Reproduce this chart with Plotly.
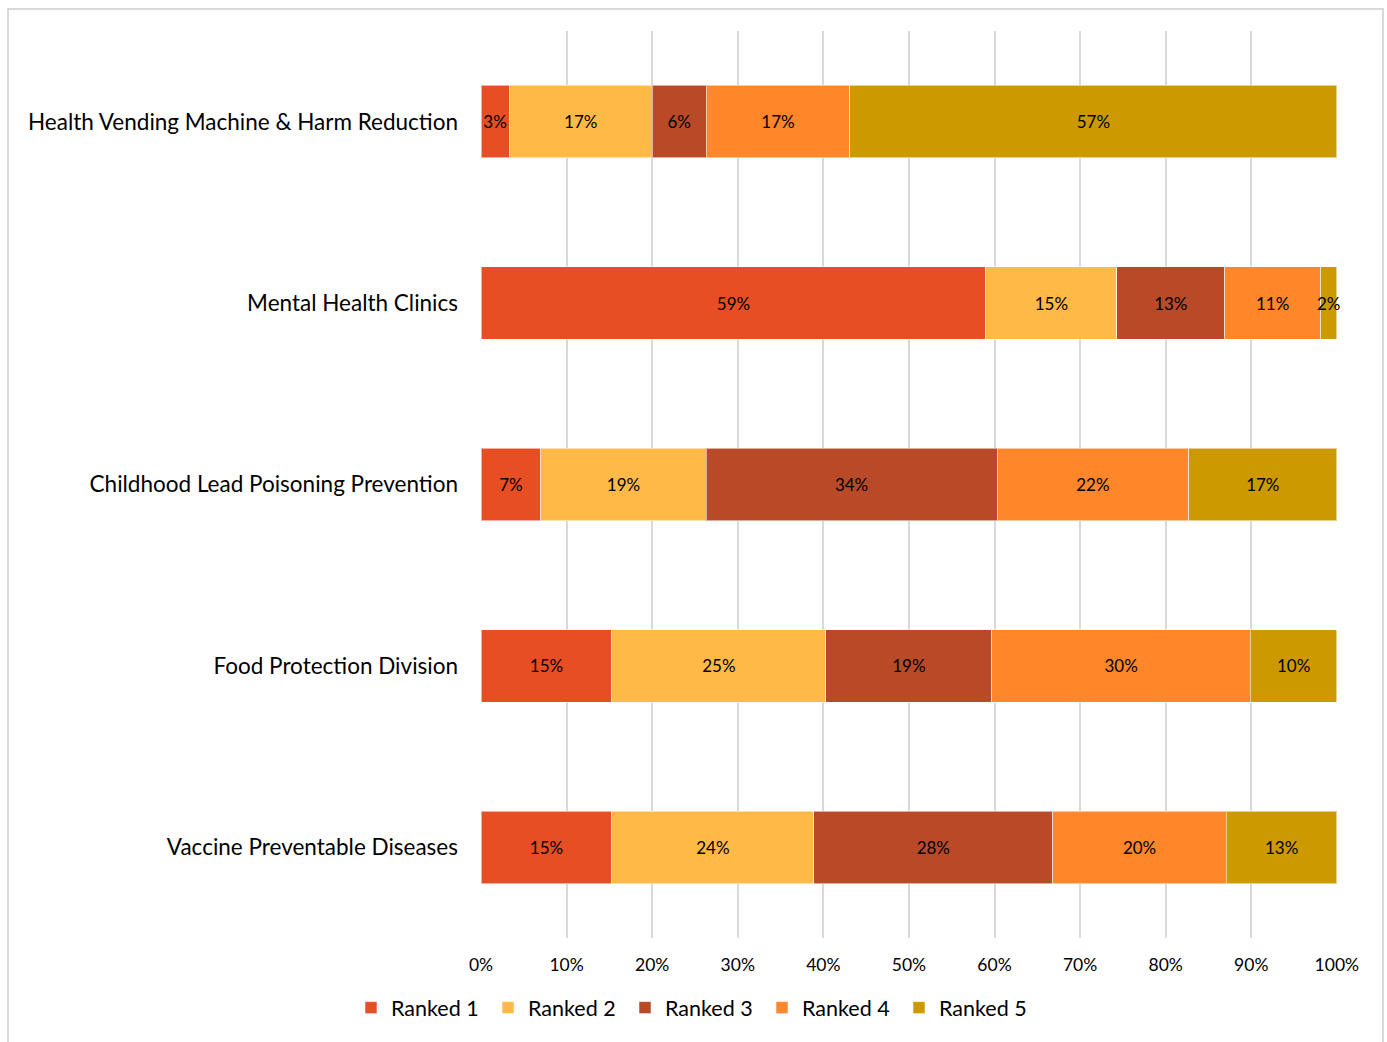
import plotly.graph_objects as go

# Programs, listed top to bottom as they appear on the chart
programs = [
    "Health Vending Machine & Harm Reduction",
    "Mental Health Clinics",
    "Childhood Lead Poisoning Prevention",
    "Food Protection Division",
    "Vaccine Preventable Diseases",
]

# Share of respondents (%) giving each rank to each program
ranked_1 = [3.3, 59.0, 7.0, 15.3, 15.3]
ranked_2 = [16.7, 15.3, 19.3, 25.0, 23.6]
ranked_3 = [6.3, 12.6, 34.0, 19.4, 27.9]
ranked_4 = [16.8, 11.2, 22.4, 30.2, 20.3]
ranked_5 = [56.9, 1.9, 17.3, 10.1, 12.9]

series_names = ["Ranked 1", "Ranked 2", "Ranked 3", "Ranked 4", "Ranked 5"]
series_values = [ranked_1, ranked_2, ranked_3, ranked_4, ranked_5]
series_colors = ["#E84E24", "#FFB946", "#B84A28", "#FF8629", "#CC9900"]

tick_values = list(range(0, 101, 10))
tick_labels = [f"{v}%" for v in tick_values]

FONT = "Lato, Carlito, Calibri, sans-serif"

fig = go.Figure()
for name, vals, color in zip(series_names, series_values, series_colors):
    fig.add_trace(
        go.Bar(
            y=programs,
            x=vals,
            name=name,
            orientation="h",
            marker=dict(color=color, line=dict(color="rgba(255,255,255,0.55)", width=1)),
            texttemplate="%{x:.0f}%",
            textposition="inside",
            insidetextanchor="middle",
            textangle=0,
            constraintext="none",
            textfont=dict(family=FONT, size=17, color="#000000"),
            cliponaxis=False,
            hovertemplate="%{y}<br>" + name + ": %{x:.1f}%<extra></extra>",
        )
    )

fig.update_layout(
    barmode="stack",
    bargap=0.6,
    width=1387,
    height=1042,
    margin=dict(l=481, r=50, t=31, b=104),
    paper_bgcolor="white",
    plot_bgcolor="white",
    font=dict(family=FONT, size=16, color="#000000"),
    xaxis=dict(
        range=[0, 100.02],
        tickvals=tick_values,
        ticktext=tick_labels,
        showgrid=True,
        gridcolor="#D9D9D9",
        gridwidth=2,
        zeroline=False,
        showline=False,
        ticks="",
        ticklabelstandoff=14,
        tickfont=dict(family=FONT, size=17.5, color="#000000"),
        fixedrange=True,
    ),
    yaxis=dict(
        categoryorder="array",
        categoryarray=programs,
        autorange="reversed",
        showgrid=False,
        zeroline=False,
        showline=False,
        ticks="",
        ticklabelstandoff=22,
        tickfont=dict(family=FONT, size=22.5, color="#000000"),
        fixedrange=True,
    ),
    legend=dict(
        orientation="h",
        xref="container",
        yref="container",
        x=0.5,
        xanchor="center",
        y=0.033,
        yanchor="middle",
        entrywidth=92,
        entrywidthmode="pixels",
        font=dict(family=FONT, size=21.5, color="#000000"),
        traceorder="normal",
        itemclick=False,
        itemdoubleclick=False,
    ),
    shapes=[
        dict(
            type="rect",
            xref="paper",
            yref="paper",
            x0=(8 - 481) / 856,
            x1=(1383 - 481) / 856,
            y0=-0.2,
            y1=1 + (31 - 9) / 907,
            line=dict(color="#D9D9D9", width=2),
            fillcolor="rgba(0,0,0,0)",
            layer="below",
        )
    ],
)

fig.write_html("out.html")
